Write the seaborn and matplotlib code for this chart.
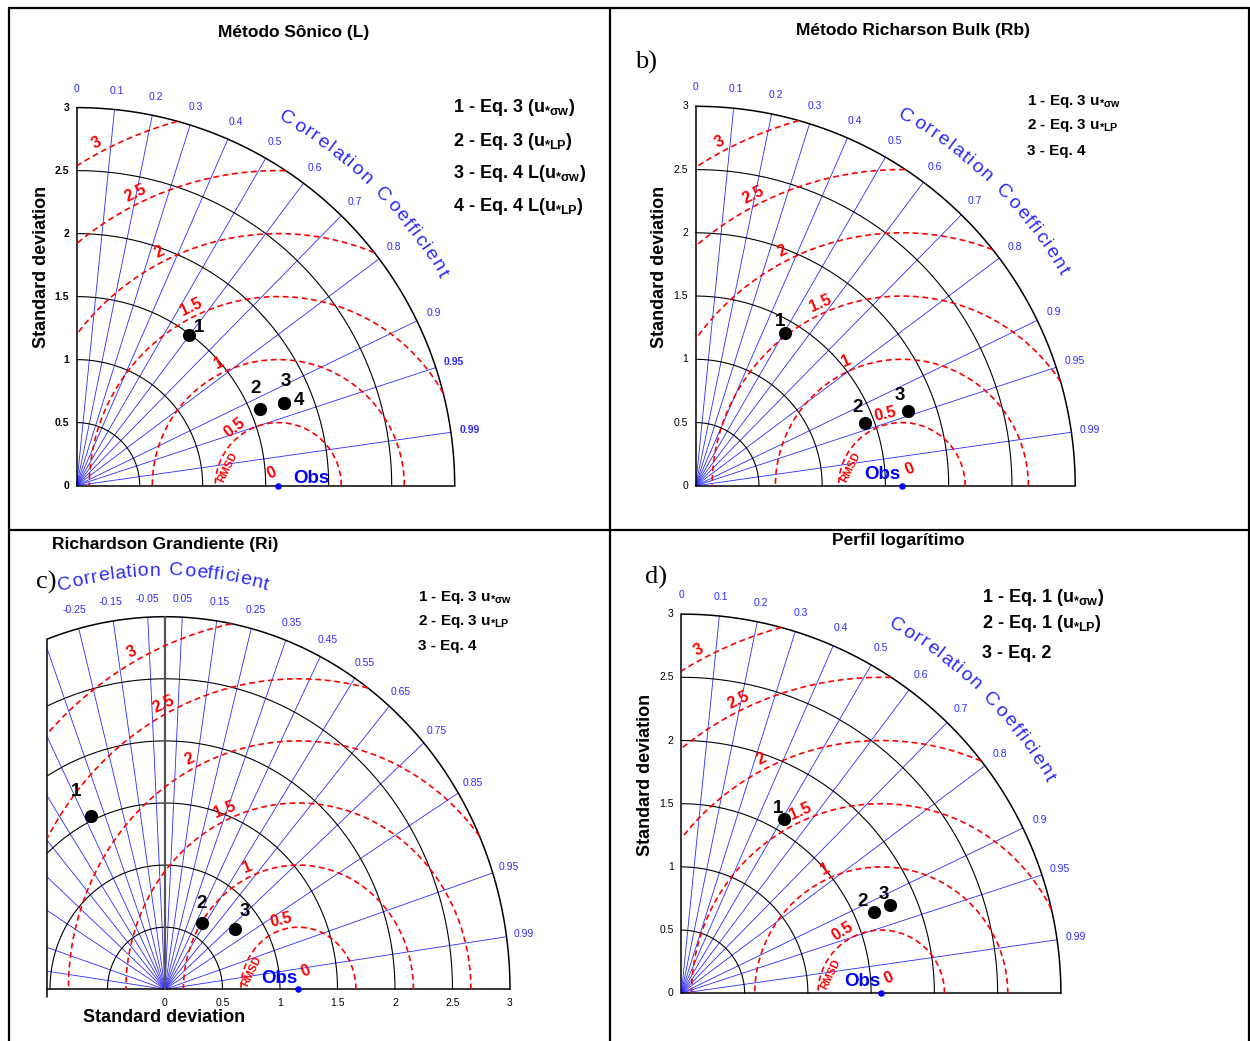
import numpy as np
import pandas as pd
import matplotlib
matplotlib.use("Agg")
import matplotlib.pyplot as plt
from matplotlib.lines import Line2D
import seaborn as sns

# ---------------- data ----------------
std_levels = [0.5, 1.0, 1.5, 2.0, 2.5, 3.0]
std_ticks = [0.0, 0.5, 1.0, 1.5, 2.0, 2.5, 3.0]
std_tick_labels = ["0", "0.5", "1", "1.5", "2", "2.5", "3"]
rmsd_levels = [0.5, 1.0, 1.5, 2.0, 2.5, 3.0]
rmsd_level_labels = ["0.5", "1", "1.5", "2", "2.5", "3"]
corr_lines_q1 = [0.1, 0.2, 0.3, 0.4, 0.5, 0.6, 0.7, 0.8, 0.9, 0.95, 0.99]
corr_labels_q1 = [0.0, 0.1, 0.2, 0.3, 0.4, 0.5, 0.6, 0.7, 0.8, 0.9, 0.95, 0.99]
corr_lines_c = [-0.99, -0.95, -0.85, -0.75, -0.65, -0.55, -0.45, -0.35, -0.25, -0.15, -0.05,
                0.05, 0.15, 0.25, 0.35, 0.45, 0.55, 0.65, 0.75, 0.85, 0.95, 0.99]
corr_labels_c = [-0.25, -0.15, -0.05, 0.05, 0.15, 0.25, 0.35, 0.45, 0.55, 0.65, 0.75, 0.85, 0.95, 0.99]

obs_a, obs_b, obs_c, obs_d = 1.60, 1.63, 1.16, 1.58

ids_a = ["1", "2", "3", "4"]
std_a = [1.49, 1.58, 1.77, 1.77]
corr_a = [0.600, 0.923, 0.928, 0.928]

ids_b = ["1", "2", "3"]
std_b = [1.40, 1.43, 1.78]
corr_b = [0.506, 0.937, 0.943]

ids_c = ["1", "2", "3"]
std_c = [1.54, 0.62, 0.78]
corr_c = [-0.419, 0.515, 0.784]

ids_d = ["1", "2", "3"]
std_d = [1.60, 1.65, 1.79]
corr_d = [0.509, 0.921, 0.921]

title_a = "Método Sônico (L)"
title_b = "Método Richarson Bulk (Rb)"
title_c = "Richardson Grandiente (Ri)"
title_d = "Perfil logarítimo"

legend_a = [r"1 - Eq. 3 (u$_{\mathbf{*σw}}$)", r"2 - Eq. 3 (u$_{\mathbf{*LP}}$)",
            r"3 - Eq. 4 L(u$_{\mathbf{*σw}}$)", r"4 - Eq. 4 L(u$_{\mathbf{*LP}}$)"]
legend_b = [r"1 - Eq. 3 u$_{\mathbf{*σw}}$", r"2 - Eq. 3 u$_{\mathbf{*LP}}$", "3 - Eq. 4"]
legend_c = [r"1 - Eq. 3 u$_{\mathbf{*σw}}$", r"2 - Eq. 3 u$_{\mathbf{*LP}}$", "3 - Eq. 4"]
legend_d = [r"1 - Eq. 1 (u$_{\mathbf{*σw}}$)", r"2 - Eq. 1 (u$_{\mathbf{*LP}}$)", "3 - Eq. 2"]

corr_title = "Correlation Coefficient"
std_title = "Standard deviation"

# ---------------- styling ----------------
sns.set_theme(style="white")
plt.rcParams["font.family"] = ["Liberation Sans", "DejaVu Sans"]
plt.rcParams["mathtext.fontset"] = "custom"
plt.rcParams["mathtext.rm"] = "Liberation Sans:bold"
plt.rcParams["mathtext.bf"] = "Liberation Sans:bold"
plt.rcParams["mathtext.it"] = "Liberation Sans:bold"

W, H = 1250, 1041
fig = plt.figure(figsize=(W / 100, H / 100), dpi=100)
fig.patch.set_facecolor("white")

BLUE = "#2a2aff"
RED = "#ff0000"


def fpos(x, y):
    return x / W, 1 - y / H


def char_w(ch):
    table = {"i": .222, "l": .222, "t": .278, "f": .278, "r": .333, " ": .35,
             "C": .722, "c": .5}
    return table.get(ch, .556)


panels = [
    dict(cell=(9, 8, 609, 529), origin=(76.7, 485.6), sx=126.0, sy=126.0, xmin=0.0,
         obs=obs_a, ids=ids_a, std=std_a, corr=corr_a, title=title_a, title_xy=(294, 32),
         legend=legend_a, leg_x=453, leg_y=[108, 142, 173, 207], leg_fs=13,
         letter=None, ylab_xy=(42, 267), tick_bold=True, bold_corr=(0.95, 0.99),
         arc=(3.35, 60.3, 30.1),
         rmsd_ang=[127, 116, 116, 117, 116, 118],
         obs_lab="right", zero_off=(-0.05, 0.10),
         offs=[(10, 8), (-5, 20), (2, 21), (15, 2)]),
    dict(cell=(611, 8, 1248, 529), origin=(695.7, 485.8), sx=126.5, sy=126.5, xmin=0.0,
         obs=obs_b, ids=ids_b, std=std_b, corr=corr_b, title=title_b, title_xy=(913, 31),
         legend=legend_b, leg_x=1027, leg_y=[101, 126, 151], leg_fs=11,
         letter=("b)", 635, 62), ylab_xy=(659, 267), tick_bold=False, bold_corr=(),
         arc=(3.36, 60.4, 30.3),
         rmsd_ang=[103, 114, 114, 117, 117, 118],
         obs_lab="left", zero_off=(0.06, 0.13),
         offs=[(-5, 12), (-8, 15), (-8, 15)]),
    dict(cell=(9, 531, 609, 1041), origin=(165.0, 989.3), sx=115.0, sy=124.2, xmin=-1.022,
         obs=obs_c, ids=ids_c, std=std_c, corr=corr_c, title=title_c, title_xy=(165, 545),
         legend=legend_c, leg_x=418, leg_y=[597, 622, 646], leg_fs=11,
         letter=("c)", 36, 582), ylab_xy=None, tick_bold=False, bold_corr=(),
         arc=(3.37, 105.0, 75.0),
         rmsd_ang=[105, 114, 114, 117, 117, 118],
         obs_lab="left", zero_off=(0.065, 0.15),
         offs=[(-15, 24), (0, 20), (9, 18)]),
    dict(cell=(611, 531, 1248, 1041), origin=(681.4, 993.3), sx=126.5, sy=126.4, xmin=0.0,
         obs=obs_d, ids=ids_d, std=std_d, corr=corr_d, title=title_d, title_xy=(898, 541),
         legend=legend_d, leg_x=982, leg_y=[597, 623, 653], leg_fs=13,
         letter=("d)", 645, 577), ylab_xy=(645, 775), tick_bold=False, bold_corr=(),
         arc=(3.37, 59.8, 30.4),
         rmsd_ang=[122, 114, 114, 117, 116, 118],
         obs_lab="left", zero_off=(0.06, 0.12),
         offs=[(-6, 11), (-11, 11), (-6, 11)]),
]


def draw_panel(p):
    x0, y0, x1, y1 = p["cell"]
    ox, oy = p["origin"]
    sx, sy = p["sx"], p["sy"]
    xmin = p["xmin"]
    ax = fig.add_axes([x0 / W, 1 - y1 / H, (x1 - x0) / W, (y1 - y0) / H])
    ax.set_xlim((x0 - ox) / sx, (x1 - ox) / sx)
    ax.set_ylim((oy - y1) / sy, (oy - y0) / sy)
    ax.axis("off")
    rmax = std_levels[-1]

    def scr_rot(th_deg):
        th = np.radians(th_deg)
        return np.degrees(np.arctan2(sy * np.sin(th), sx * np.cos(th))) - 90

    # correlation rays
    lines = corr_lines_q1 if xmin == 0 else corr_lines_c
    for c in lines:
        th = np.arccos(c)
        r_end = rmax
        if c < 0 and rmax * np.cos(th) < xmin:
            r_end = xmin / np.cos(th)
        ax.plot([0, r_end * np.cos(th)], [0, r_end * np.sin(th)], color=BLUE, lw=0.6, zorder=1)

    # std arcs
    for r in std_levels:
        if xmin == 0:
            thmax = np.pi / 2
        elif r <= -xmin:
            thmax = np.pi
        else:
            thmax = np.arccos(xmin / r)
        th = np.linspace(0, thmax, 400)
        ax.plot(r * np.cos(th), r * np.sin(th), color="black",
                lw=1.1 if r == rmax else 0.8, zorder=2)

    # axes lines
    if xmin == 0:
        ax.plot([0, rmax], [0, 0], color="black", lw=1.1, zorder=2)
        ax.plot([0, 0], [0, rmax], color="black", lw=1.1, zorder=2)
        for v, lab in zip(std_ticks, std_tick_labels):
            ax.text(-0.06, v, lab, ha="right", va="center", fontsize=7.5,
                    fontweight="bold" if p["tick_bold"] else "normal", color="black")
    else:
        ytop = np.sqrt(rmax ** 2 - xmin ** 2)
        ax.plot([xmin, rmax], [0, 0], color="black", lw=1.1, zorder=2)
        ax.plot([xmin, xmin], [-0.06, ytop], color="black", lw=1.1, zorder=2)
        ax.plot([0, 0], [0, rmax], color="#555555", lw=1.6, zorder=2)
        for v, lab in zip(std_ticks, std_tick_labels):
            ax.text(v, -0.11, lab, ha="center", va="center", fontsize=7.5, color="black")

    # correlation labels
    labs = corr_labels_q1 if xmin == 0 else corr_labels_c
    for c in labs:
        th = np.arccos(c)
        ax.text(3.15 * np.cos(th), 3.15 * np.sin(th), f"{c:g}", ha="center", va="center",
                fontsize=7.5, color=BLUE,
                fontweight="bold" if c in p["bold_corr"] else "normal")

    # curved correlation title
    R, t1, t2 = p["arc"]
    ws = [char_w(ch) for ch in corr_title]
    cum = np.cumsum(ws) - np.array(ws) / 2
    frac = (cum - cum[0]) / (cum[-1] - cum[0])
    for ch, f in zip(corr_title, frac):
        if ch == " ":
            continue
        th = t1 + (t2 - t1) * f
        ax.text(R * np.cos(np.radians(th)), R * np.sin(np.radians(th)), ch,
                rotation=scr_rot(th), rotation_mode="anchor", ha="center", va="center",
                fontsize=14, color=BLUE)

    # RMSD circles
    obs = p["obs"]
    ph = np.linspace(0, np.pi, 1500)
    for r in rmsd_levels:
        x = obs + r * np.cos(ph)
        y = r * np.sin(ph)
        ok = (x ** 2 + y ** 2 <= rmax ** 2 + 1e-9) & (x >= xmin)
        x = np.where(ok, x, np.nan)
        y = np.where(ok, y, np.nan)
        ax.plot(x, y, color=RED, lw=1.2, ls=(0, (3.5, 2.2)), zorder=3)

    for r, lab, ang in zip(rmsd_levels, rmsd_level_labels, p["rmsd_ang"]):
        a = np.radians(ang)
        rr = r + 0.08
        ax.text(obs + rr * np.cos(a), rr * np.sin(a), lab, color=RED, fontsize=11.5,
                fontweight="bold", ha="center", va="center", rotation=scr_rot(ang), zorder=4)
    a = np.radians(160)
    ax.text(obs + 0.43 * np.cos(a), 0.43 * np.sin(a), "RMSD", color=RED, fontsize=7.8,
            fontweight="bold", ha="center", va="center", rotation=64, zorder=4)
    zx, zy = p["zero_off"]
    ax.text(obs + zx, zy, "0", color=RED, fontsize=11.5, fontweight="bold",
            ha="center", va="center", rotation=24, zorder=4)

    # observation
    sns.scatterplot(x=[obs], y=[0.0], ax=ax, s=22, color="blue", edgecolor="blue",
                    linewidth=0, legend=False, zorder=6, clip_on=False)
    if p["obs_lab"] == "right":
        ax.text(obs + 0.12, 0.06, "Obs", color="blue", fontsize=13.5, fontweight="bold",
                ha="left", va="center", zorder=6)
    else:
        ax.text(obs - 0.01, 0.09, "Obs", color="blue", fontsize=13.5, fontweight="bold",
                ha="right", va="center", zorder=6)

    # model points
    th = np.arccos(np.array(p["corr"]))
    df = pd.DataFrame({"id": p["ids"],
                       "x": np.array(p["std"]) * np.cos(th),
                       "y": np.array(p["std"]) * np.sin(th)})
    sns.scatterplot(data=df, x="x", y="y", ax=ax, s=90, color="black", edgecolor="black",
                    linewidth=0, legend=False, zorder=7)
    for (_, row), (dx, dy) in zip(df.iterrows(), p["offs"]):
        ax.annotate(row["id"], (row["x"], row["y"]), xytext=(dx / 1.389, dy / 1.389),
                    textcoords="offset points", ha="center", va="center", fontsize=13.5,
                    fontweight="bold", color="black", zorder=8)

    # texts in figure coordinates
    fig.text(*fpos(*p["title_xy"]), p["title"], ha="center", va="center",
             fontsize=12.5, fontweight="bold", color="black")
    for s, yy in zip(p["legend"], p["leg_y"]):
        fig.text(*fpos(p["leg_x"], yy), s, ha="left", va="center", fontsize=p["leg_fs"],
                 fontweight="bold", color="black")
    if p["letter"] is not None:
        t, lx, ly = p["letter"]
        fig.text(*fpos(lx, ly), t, ha="left", va="center", fontsize=19,
                 family="Liberation Serif", color="black")
    if p["ylab_xy"] is not None:
        fig.text(*fpos(*p["ylab_xy"]), std_title, ha="center", va="center", rotation=90,
                 fontsize=13, fontweight="bold", color="black")
    else:
        fig.text(*fpos(164, 1017), std_title, ha="center", va="center",
                 fontsize=13, fontweight="bold", color="black")


for p in panels:
    draw_panel(p)

# frame lines
def fline(xs, ys):
    fig.add_artist(Line2D([x / W for x in xs], [1 - y / H for y in ys],
                          transform=fig.transFigure, color="black", lw=1.6))

fline([8.5, 8.5], [7.5, 1041])
fline([8.5, 1248.5], [7.5, 7.5])
fline([1248.5, 1248.5], [7.5, 1041])
fline([610, 610], [7.5, 1041])
fline([8.5, 1248.5], [530, 530])

fig.savefig("out.png", dpi=100, facecolor="white")
